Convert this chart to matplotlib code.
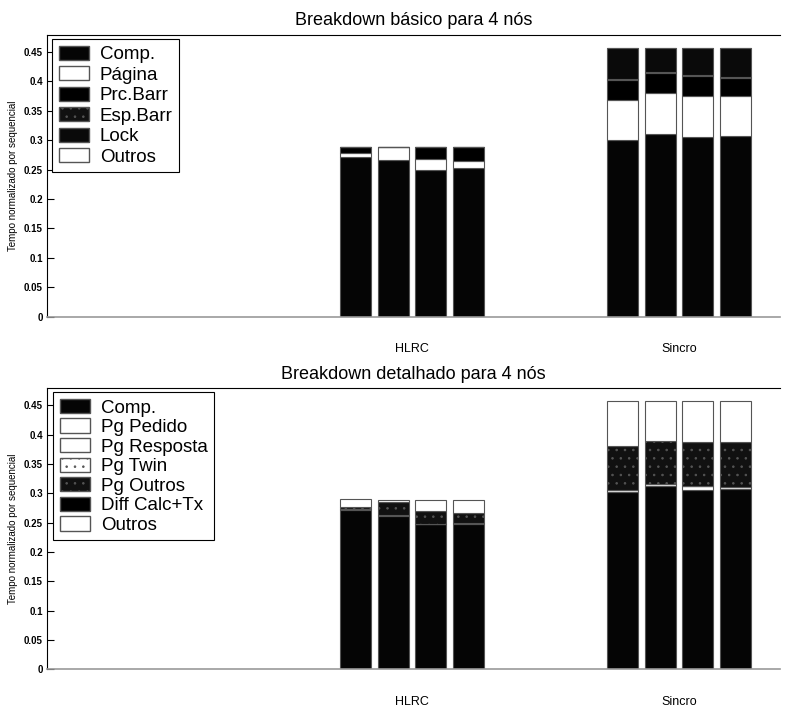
import numpy as np
import matplotlib
matplotlib.use("Agg")
import matplotlib.pyplot as plt
from matplotlib.patches import Patch

plt.rcParams['font.family'] = ['Liberation Sans', 'DejaVu Sans']
plt.rcParams['hatch.linewidth'] = 0.6

groups = ["HLRC", "Sincro"]
n_bars = 4

# ---- Top panel: basic breakdown (values per bar: HLRC x4, Sincro x4)
top_title = "Breakdown básico para 4 nós"
top_labels = ["Comp.", "Página", "Prc.Barr", "Esp.Barr", "Lock", "Outros"]
top_comp    = [0.272, 0.267, 0.249, 0.253, 0.301, 0.310, 0.305, 0.307]
top_pagina  = [0.006, 0.021, 0.020, 0.012, 0.068, 0.070, 0.070, 0.068]
top_prcbarr = [0.010, 0.000, 0.019, 0.023, 0.033, 0.034, 0.034, 0.031]
top_espbarr = [0.000, 0.000, 0.000, 0.000, 0.002, 0.002, 0.002, 0.002]
top_lock    = [0.000, 0.000, 0.000, 0.000, 0.053, 0.041, 0.046, 0.049]
top_outros  = [0.000, 0.000, 0.000, 0.000, 0.000, 0.000, 0.000, 0.000]

# ---- Bottom panel: detailed breakdown
bot_title = "Breakdown detalhado para 4 nós"
bot_labels = ["Comp.", "Pg Pedido", "Pg Resposta", "Pg Twin", "Pg Outros",
              "Diff Calc+Tx", "Outros"]
bot_comp      = [0.272, 0.262, 0.247, 0.248, 0.302, 0.312, 0.306, 0.307]
bot_pgpedido  = [0.001, 0.001, 0.001, 0.001, 0.003, 0.004, 0.006, 0.004]
bot_pgresp    = [0.000, 0.000, 0.000, 0.000, 0.000, 0.000, 0.000, 0.000]
bot_pgtwin    = [0.000, 0.000, 0.000, 0.000, 0.000, 0.000, 0.000, 0.000]
bot_pgoutros  = [0.003, 0.023, 0.021, 0.017, 0.075, 0.074, 0.075, 0.076]
bot_diff      = [0.000, 0.000, 0.000, 0.000, 0.000, 0.000, 0.000, 0.000]
bot_outros    = [0.014, 0.002, 0.020, 0.023, 0.078, 0.068, 0.071, 0.071]

ylabel = "Tempo normalizado por sequencial"
yticks = [0, 0.05, 0.1, 0.15, 0.2, 0.25, 0.3, 0.35, 0.4, 0.45]
ytick_labels = ["0", "0.05", "0.1", "0.15", "0.2", "0.25", "0.3", "0.35", "0.4", "0.45"]

# styles: (facecolor, hatch)
top_styles = [("#050505", None), ("white", None), ("black", None),
              ("#111111", ".."), ("#0a0a0a", None), ("white", None)]
bot_styles = [("#050505", None), ("white", None), ("white", None),
              ("white", ".."), ("#111111", ".."), ("black", None), ("white", None)]

W, H = 789, 709
fig = plt.figure(figsize=(W / 100, H / 100), dpi=100)

def ax_rect(l, t, r, b):
    return [l / W, 1 - b / H, (r - l) / W, (b - t) / H]

ax1 = fig.add_axes(ax_rect(47, 35, 780, 316.7))
ax2 = fig.add_axes(ax_rect(47, 388.3, 780, 669.3))

group_pos = np.arange(1, len(groups) + 1)
step = 0.14
width = 0.116
xs = np.concatenate([g + (np.arange(n_bars) - (n_bars - 1) / 2) * step for g in group_pos])

def draw(ax, series, labels, styles, title, legend_anchor, spacing):
    bottom = np.zeros(len(xs))
    for vals, (fc, hatch) in zip(series, styles):
        vals = np.asarray(vals)
        ax.bar(xs, vals, width=width, bottom=bottom, color=fc,
               edgecolor="#555555", linewidth=0.8, hatch=hatch)
        bottom = bottom + vals
    ax.set_xlim(-0.367, 2.378)
    ax.set_ylim(0, 0.479)
    ax.set_xticks(group_pos)
    ax.set_xticklabels(groups, fontsize=9)
    ax.tick_params(axis="x", length=0, pad=19)
    ax.set_yticks(yticks)
    ax.set_yticklabels(ytick_labels, fontsize=7, fontweight="bold")
    ax.tick_params(axis="y", direction="in", length=5, width=0.8, pad=3)
    ax.set_ylabel(ylabel, fontsize=7, labelpad=4)
    ax.spines["right"].set_visible(False)
    ax.spines["bottom"].set_color("#999999")
    ax.spines["bottom"].set_linewidth(1.2)
    ax.spines["left"].set_linewidth(0.8)
    ax.spines["top"].set_linewidth(0.8)
    ax.set_title(title, fontsize=13, pad=7)
    handles = [Patch(facecolor=fc, edgecolor="#555555", hatch=h, label=l)
               for (fc, h), l in zip(styles, labels)]
    leg = ax.legend(handles=handles, loc="upper left", bbox_to_anchor=legend_anchor,
                    borderaxespad=0, fontsize=13.5, fancybox=False, framealpha=1,
                    edgecolor="black", handlelength=1.6, handleheight=0.8,
                    handletextpad=0.6, labelspacing=spacing, borderpad=0.35)
    leg.get_frame().set_linewidth(0.8)

draw(ax1, [top_comp, top_pagina, top_prcbarr, top_espbarr, top_lock, top_outros],
     top_labels, top_styles, top_title, (5 / 733, 1 - 4 / 281.7), 0.15)
draw(ax2, [bot_comp, bot_pgpedido, bot_pgresp, bot_pgtwin, bot_pgoutros, bot_diff, bot_outros],
     bot_labels, bot_styles, bot_title, (6 / 733, 1 - 4 / 281), 0.1)

fig.savefig("out.png", dpi=100)
